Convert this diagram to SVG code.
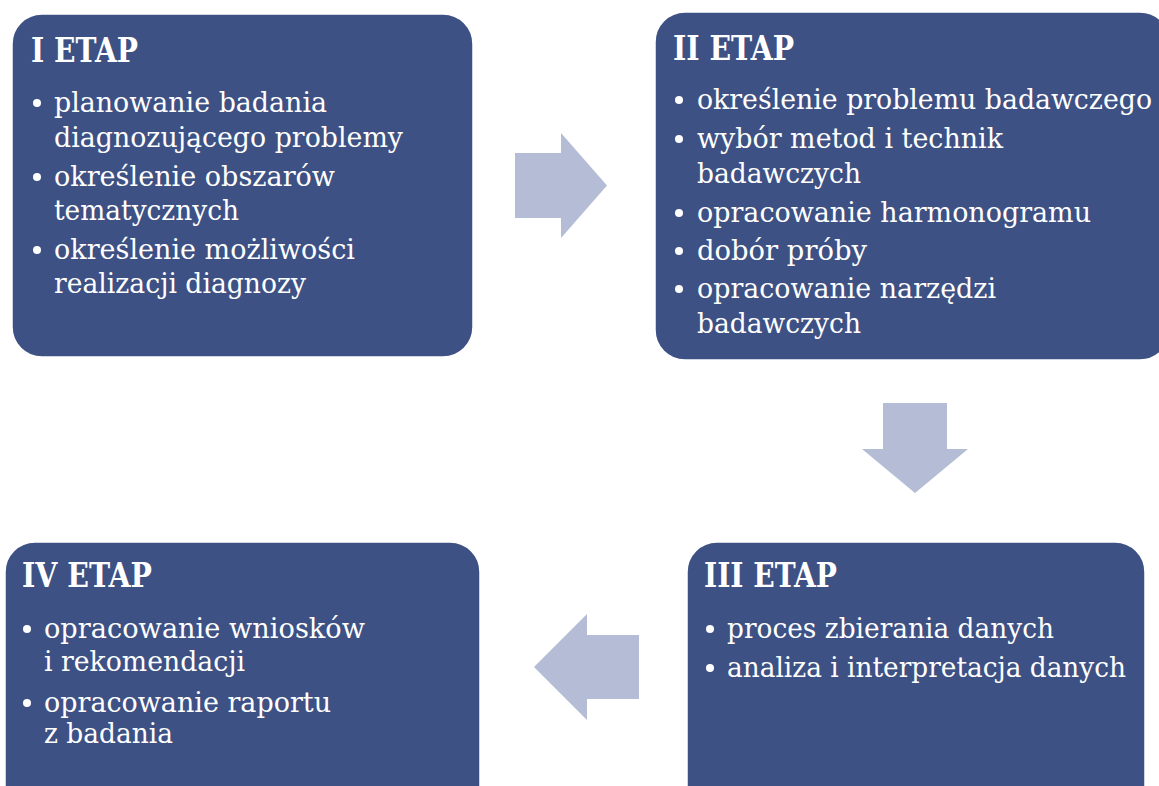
<svg xmlns="http://www.w3.org/2000/svg" width="1159" height="786" viewBox="0 0 1159 786">
<style>
.box{fill:#3E5184;stroke:#ffffff;stroke-width:1.5}
.title{font-family:"DejaVu Serif","Liberation Serif",serif;font-weight:bold;font-size:34px;fill:#ffffff}
.t{font-family:"DejaVu Serif","Liberation Serif",serif;font-size:27px;fill:#ffffff}
.b{fill:#ffffff}
.arrow{fill:#B4BCD6}
</style>
<rect width="1159" height="786" fill="#ffffff"/>
<g id="connectors">
<polygon class="arrow" points="515,153 561,153 561,133 607,185.5 561,238 561,218 515,218"/>
<polygon class="arrow" points="883,403 947,403 947,449 968,449 915,493 862,449 883,449"/>
<polygon class="arrow" points="639,635 587,635 587,614 534,667 587,720 587,699 639,699"/>
</g>
<g id="etap1">
<rect class="box" x="12" y="14" width="461" height="343" rx="30"/>
<text class="title" x="31" y="62" textLength="107" lengthAdjust="spacingAndGlyphs">I ETAP</text>
<circle class="b" cx="37" cy="103" r="4"/>
<text class="t" x="54" y="112" textLength="273" lengthAdjust="spacingAndGlyphs">planowanie badania</text>
<text class="t" x="54" y="147" textLength="349" lengthAdjust="spacingAndGlyphs">diagnozującego problemy</text>
<circle class="b" cx="37" cy="177" r="4"/>
<text class="t" x="54" y="186" textLength="281" lengthAdjust="spacingAndGlyphs">określenie obszarów</text>
<text class="t" x="54" y="220" textLength="185" lengthAdjust="spacingAndGlyphs">tematycznych</text>
<circle class="b" cx="37" cy="250" r="4"/>
<text class="t" x="54" y="259" textLength="301" lengthAdjust="spacingAndGlyphs">określenie możliwości</text>
<text class="t" x="54" y="293" textLength="252" lengthAdjust="spacingAndGlyphs">realizacji diagnozy</text>
</g>
<g id="etap2">
<rect class="box" x="655" y="12" width="515" height="348" rx="30"/>
<text class="title" x="673" y="60" textLength="121" lengthAdjust="spacingAndGlyphs">II ETAP</text>
<circle class="b" cx="679" cy="100" r="4"/>
<text class="t" x="697" y="109" textLength="455" lengthAdjust="spacingAndGlyphs">określenie problemu badawczego</text>
<circle class="b" cx="679" cy="139" r="4"/>
<text class="t" x="697" y="148" textLength="306" lengthAdjust="spacingAndGlyphs">wybór metod i technik</text>
<text class="t" x="697" y="183" textLength="164" lengthAdjust="spacingAndGlyphs">badawczych</text>
<circle class="b" cx="679" cy="213" r="4"/>
<text class="t" x="697" y="222" textLength="394" lengthAdjust="spacingAndGlyphs">opracowanie harmonogramu</text>
<circle class="b" cx="679" cy="251" r="4"/>
<text class="t" x="697" y="260" textLength="170" lengthAdjust="spacingAndGlyphs">dobór próby</text>
<circle class="b" cx="679" cy="289" r="4"/>
<text class="t" x="697" y="298" textLength="299" lengthAdjust="spacingAndGlyphs">opracowanie narzędzi</text>
<text class="t" x="697" y="333" textLength="164" lengthAdjust="spacingAndGlyphs">badawczych</text>
</g>
<g id="etap3">
<rect class="box" x="687" y="542" width="458" height="280" rx="30"/>
<text class="title" x="704" y="587" textLength="133" lengthAdjust="spacingAndGlyphs">III ETAP</text>
<circle class="b" cx="710" cy="629" r="4"/>
<text class="t" x="727" y="638" textLength="327" lengthAdjust="spacingAndGlyphs">proces zbierania danych</text>
<circle class="b" cx="710" cy="668" r="4"/>
<text class="t" x="727" y="677" textLength="399" lengthAdjust="spacingAndGlyphs">analiza i interpretacja danych</text>
</g>
<g id="etap4">
<rect class="box" x="5" y="542" width="475" height="280" rx="30"/>
<text class="title" x="22" y="587" textLength="130" lengthAdjust="spacingAndGlyphs">IV ETAP</text>
<circle class="b" cx="27" cy="629" r="4"/>
<text class="t" x="44" y="638" textLength="321" lengthAdjust="spacingAndGlyphs">opracowanie wniosków</text>
<text class="t" x="44" y="671" textLength="201" lengthAdjust="spacingAndGlyphs">i rekomendacji</text>
<circle class="b" cx="27" cy="703" r="4"/>
<text class="t" x="44" y="712" textLength="287" lengthAdjust="spacingAndGlyphs">opracowanie raportu</text>
<text class="t" x="44" y="743" textLength="129" lengthAdjust="spacingAndGlyphs">z badania</text>
</g>
</svg>
